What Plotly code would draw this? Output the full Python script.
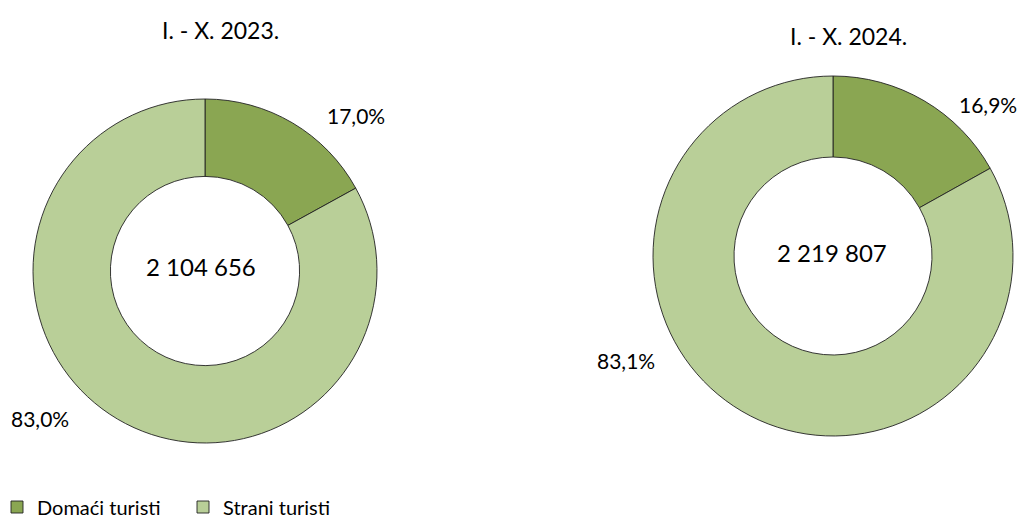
import plotly.graph_objects as go

# ---- data ----
categories = ["Domaći turisti", "Strani turisti"]
periods = ["I. - X. 2023.", "I. - X. 2024."]
domestic_pct = [17.0, 16.9]
foreign_pct = [83.0, 83.1]
totals = ["2 104 656", "2 219 807"]

colors = ["#8AA652", "#B9CF98"]
FONT = "Lato"
W, H = 1021, 521

def px_x(x):
    return x / W

def px_y(y):
    return 1 - y / H

# layout geometry (pixels)
centers = [(205, 271), (833, 256)]
radii = [172, 180]

fig = go.Figure()
legends = ["legend", "legend2"]
for i in range(2):
    cx, cy = centers[i]
    r = radii[i]
    fig.add_trace(go.Pie(
        labels=categories,
        values=[domestic_pct[i], foreign_pct[i]],
        hole=0.55,
        sort=False,
        direction="clockwise",
        rotation=0,
        textinfo="none",
        marker=dict(colors=colors, line=dict(color="#222222", width=0.9)),
        domain=dict(x=[px_x(cx - r), px_x(cx + r)], y=[px_y(cy + r), px_y(cy - r)]),
        legend=legends[i],
        showlegend=True,
        hoverinfo="label+percent",
    ))

def fmt(v):
    return f"{v:.1f}".replace(".", ",") + "%"

ann = []
# titles
title_pos = [(220, 30), (848, 36)]
for i in range(2):
    ann.append(dict(text=periods[i], x=px_x(title_pos[i][0]), y=px_y(title_pos[i][1]),
                    font=dict(size=23)))
# center totals
center_pos = [(201, 266), (832, 253)]
for i in range(2):
    ann.append(dict(text=totals[i], x=px_x(center_pos[i][0]), y=px_y(center_pos[i][1]),
                    font=dict(size=24)))
# percentage labels
dom_pos = [(356, 115), (988, 104)]
for_pos = [(40, 418), (626, 360)]
for i in range(2):
    ann.append(dict(text=fmt(domestic_pct[i]), x=px_x(dom_pos[i][0]), y=px_y(dom_pos[i][1]),
                    font=dict(size=21)))
    ann.append(dict(text=fmt(foreign_pct[i]), x=px_x(for_pos[i][0]), y=px_y(for_pos[i][1]),
                    font=dict(size=21)))
for a in ann:
    a.update(xref="paper", yref="paper", xanchor="center", yanchor="middle", showarrow=False)
    a["font"].update(family=FONT, color="#000000")

leg_common = dict(orientation="h", xanchor="left", yanchor="middle",
                  font=dict(family=FONT, size=20, color="#000000"),
                  itemwidth=30, entrywidth=141, bgcolor="rgba(0,0,0,0)",
                  itemclick=False, itemdoubleclick=False)

fig.update_layout(
    width=W, height=H,
    margin=dict(l=0, r=0, t=0, b=0, autoexpand=False),
    paper_bgcolor="white",
    plot_bgcolor="white",
    font=dict(family=FONT, color="#000000"),
    annotations=ann,
    legend=dict(x=px_x(-3), y=px_y(507), **leg_common),
    legend2=dict(x=px_x(641), y=px_y(513), **leg_common),
)

fig.write_html(
    "out.html",
    config={"displayModeBar": False},
    post_script="document.body.style.margin='0';document.body.style.overflow='hidden';",
)
